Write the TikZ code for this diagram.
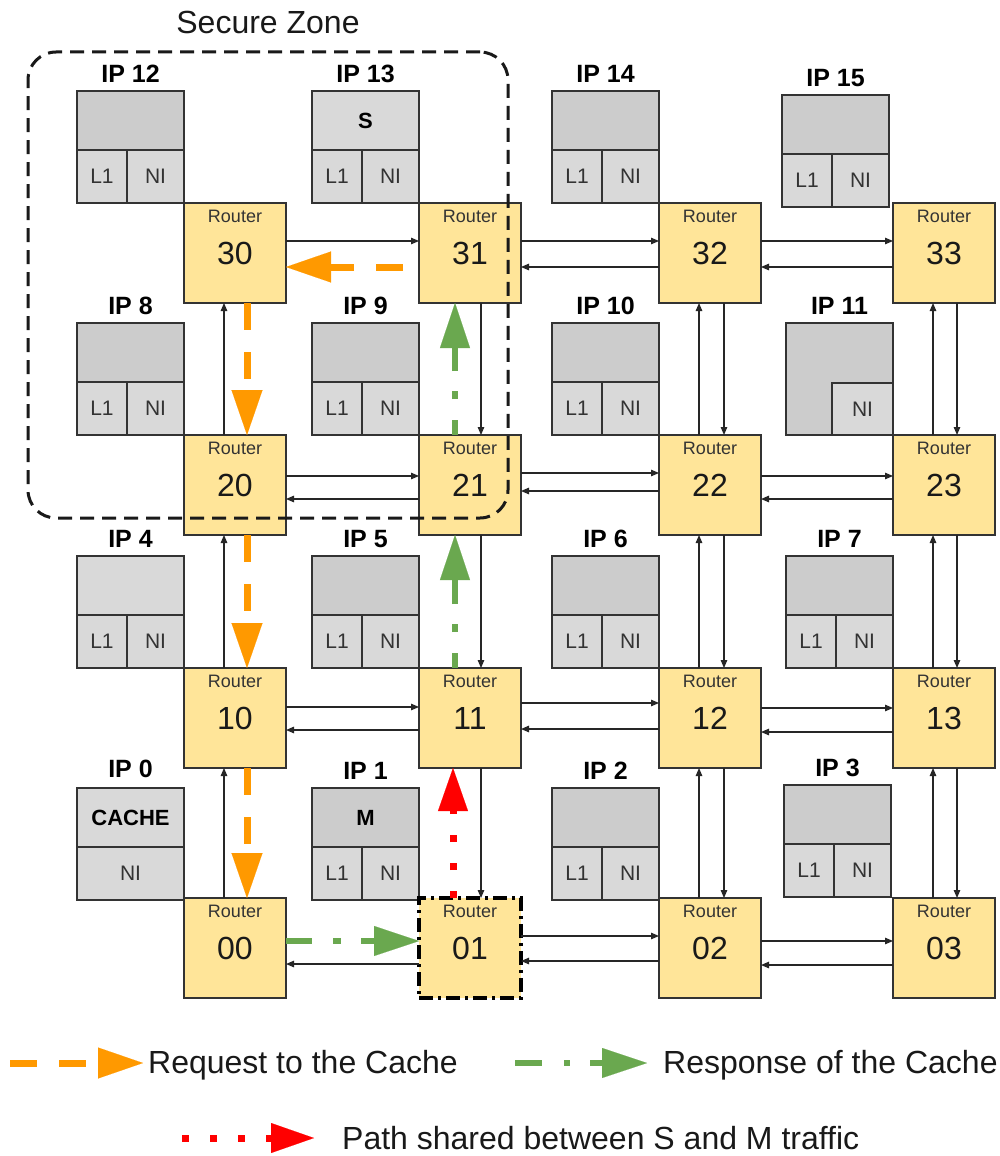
\documentclass[tikz,border=0pt]{standalone}
\usepackage{fontspec}
\setmainfont{Liberation Sans}
\usetikzlibrary{arrows.meta,calc}
\definecolor{routerfill}{HTML}{FFE599}
\definecolor{ipdark}{HTML}{CCCCCC}
\definecolor{iplight}{HTML}{D9D9D9}
\definecolor{edgec}{HTML}{333333}
\definecolor{reqc}{HTML}{FF9900}
\definecolor{respc}{HTML}{6AA84F}
\definecolor{sharedc}{HTML}{FF0000}
\newcommand{\fsz}[1]{\fontsize{#1}{#1}\selectfont}
\tikzset{
  router/.style={draw=edgec, line width=1.5pt, fill=routerfill, minimum width=102pt, minimum height=100pt, inner sep=0pt, outer sep=0pt},
  rtitle/.style={font=\fsz{18}, text=edgec, inner sep=0pt},
  rnum/.style={font=\fsz{32}, text=black!90, inner sep=0pt},
  ipbox/.style={draw=edgec, line width=1.8pt, inner sep=0pt, outer sep=0pt, anchor=north west},
  iplabel/.style={font=\bfseries\fsz{25}, inner sep=0pt},
  subtext/.style={font=\fsz{21}, text=edgec},
  ptext/.style={font=\bfseries\fsz{22}},
  conn/.style={draw=black!85, line width=1.1pt, -{Triangle[length=8pt,width=6.5pt]}},
  req/.style={draw=reqc, line width=7pt, dash pattern=on 27pt off 22pt, -{Triangle[length=45pt,width=31pt,line width=0.1pt]}},
  resp/.style={draw=respc, line width=6pt, dash pattern=on 26pt off 21pt on 8pt off 20pt, -{Triangle[length=45pt,width=30pt,line width=0.1pt]}},
  shared/.style={draw=sharedc, line width=7pt, dash pattern=on 7pt off 21pt, -{Triangle[length=43pt,width=30pt,line width=0.1pt]}},
  zone/.style={draw=black!90, line width=3pt, dash pattern=on 14pt off 8pt, rounded corners=28pt, minimum width=480pt, minimum height=466pt, inner sep=0pt},
  legtext/.style={font=\fsz{32}, anchor=base west, inner sep=0pt, text=black!90},
}
% router: [extra style]{name}{cx}{cy}
\newcommand{\router}[4][]{%
  \node[router,#1] (r#2) at (#3,#4) {};
  \node[rtitle] (r#2t) at ($(r#2.north)+(0,13)$) {Router};
  \node[rnum] (r#2n) at (r#2.center) {#2};
}
% standard IP block: {name}{left}{top}{label}{top fill}{top text}
\newcommand{\ipstd}[6]{%
  \node[ipbox, fill=#5, minimum width=107pt, minimum height=59pt] (#1top) at (#2,#3) {};
  \node[ptext] (#1tt) at (#1top.center) {#6};
  \node[ipbox, fill=iplight, minimum width=50pt, minimum height=53pt] (#1l) at (#2,{#3+59}) {};
  \node[subtext] (#1lt) at (#1l.center) {L1};
  \node[ipbox, fill=iplight, minimum width=57pt, minimum height=53pt] (#1n) at ({#2+50},{#3+59}) {};
  \node[subtext] (#1nt) at (#1n.center) {NI};
  \node[iplabel] (#1lab) at ({#2+53.5},{#3-17}) {#4};
}
\begin{document}
\begin{tikzpicture}[x=1pt,y=-1pt]
\useasboundingbox (0,0) rectangle (1000,1156);
\fill[white] (0,0) rectangle (1000,1156);

% IP blocks
\ipstd{ipa}{77}{91}{IP 12}{ipdark}{}
\ipstd{ipb}{312}{91}{IP 13}{iplight}{S}
\ipstd{ipc}{552}{91}{IP 14}{ipdark}{}
\ipstd{ipd}{782}{95}{IP 15}{ipdark}{}
\ipstd{ipe}{77}{323}{IP 8}{ipdark}{}
\ipstd{ipf}{312}{323}{IP 9}{ipdark}{}
\ipstd{ipg}{552}{323}{IP 10}{ipdark}{}
% IP 11
\node[ipbox, fill=ipdark, minimum width=107pt, minimum height=112pt] (iph) at (786,323) {};
\node[ipbox, fill=iplight, minimum width=61pt, minimum height=52pt] (iphn) at (832,383) {};
\node[subtext] (iphnt) at (iphn.center) {NI};
\node[iplabel] (iphlab) at (839.5,306) {IP 11};
\ipstd{ipi}{77}{556}{IP 4}{iplight}{}
\ipstd{ipj}{312}{556}{IP 5}{ipdark}{}
\ipstd{ipk}{552}{556}{IP 6}{ipdark}{}
\ipstd{ipl}{786}{556}{IP 7}{ipdark}{}
% IP 0
\node[ipbox, fill=iplight, minimum width=107pt, minimum height=59pt] (ipmtop) at (77,788) {};
\node[ptext] (ipmtt) at (ipmtop.center) {CACHE};
\node[ipbox, fill=iplight, minimum width=107pt, minimum height=53pt] (ipmn) at (77,847) {};
\node[subtext] (ipmnt) at (ipmn.center) {NI};
\node[iplabel] (ipmlab) at (130.5,769) {IP 0};
\ipstd{ipn}{312}{788}{IP 1}{ipdark}{M}
\ipstd{ipo}{552}{788}{IP 2}{ipdark}{}
\ipstd{ipp}{784}{785}{IP 3}{ipdark}{}

% Routers
\router{30}{235}{253}
\router{31}{470}{253}
\router{32}{710}{253}
\router{33}{944}{253}
\router{20}{235}{485}
\router{21}{470}{485}
\router{22}{710}{485}
\router{23}{944}{485}
\router{10}{235}{718}
\router{11}{470}{718}
\router{12}{710}{718}
\router{13}{944}{718}
\router{00}{235}{948}
\router[draw=black, line width=3.5pt, dash pattern=on 14pt off 5pt on 3pt off 5pt]{01}{470}{948}
\router{02}{710}{948}
\router{03}{944}{948}

% Horizontal links
\draw[conn] ([yshift=12pt]r30.east) -- ([yshift=12pt]r31.west);
\draw[conn] ([yshift=12pt]r31.east) -- ([yshift=12pt]r32.west);
\draw[conn] ([yshift=-14pt]r32.west) -- ([yshift=-14pt]r31.east);
\draw[conn] ([yshift=12pt]r32.east) -- ([yshift=12pt]r33.west);
\draw[conn] ([yshift=-14pt]r33.west) -- ([yshift=-14pt]r32.east);

\draw[conn] ([yshift=9pt]r20.east) -- ([yshift=9pt]r21.west);
\draw[conn] ([yshift=-14pt]r21.west) -- ([yshift=-14pt]r20.east);
\draw[conn] ([yshift=12pt]r21.east) -- ([yshift=12pt]r22.west);
\draw[conn] ([yshift=-6pt]r22.west) -- ([yshift=-6pt]r21.east);
\draw[conn] ([yshift=9pt]r22.east) -- ([yshift=9pt]r23.west);
\draw[conn] ([yshift=-14pt]r23.west) -- ([yshift=-14pt]r22.east);

\draw[conn] ([yshift=11pt]r10.east) -- ([yshift=11pt]r11.west);
\draw[conn] ([yshift=-12pt]r11.west) -- ([yshift=-12pt]r10.east);
\draw[conn] ([yshift=15pt]r11.east) -- ([yshift=15pt]r12.west);
\draw[conn] ([yshift=-11pt]r12.west) -- ([yshift=-11pt]r11.east);
\draw[conn] ([yshift=10pt]r12.east) -- ([yshift=10pt]r13.west);
\draw[conn] ([yshift=-14pt]r13.west) -- ([yshift=-14pt]r12.east);

\draw[conn] ([yshift=-16pt]r01.west) -- ([yshift=-16pt]r00.east);
\draw[conn] ([yshift=12pt]r01.east) -- ([yshift=12pt]r02.west);
\draw[conn] ([yshift=-13pt]r02.west) -- ([yshift=-13pt]r01.east);
\draw[conn] ([yshift=7pt]r02.east) -- ([yshift=7pt]r03.west);
\draw[conn] ([yshift=-17pt]r03.west) -- ([yshift=-17pt]r02.east);

% Vertical links
\draw[conn] ([xshift=-11pt]r00.north) -- ([xshift=-11pt]r10.south);
\draw[conn] ([xshift=-11pt]r10.north) -- ([xshift=-11pt]r20.south);
\draw[conn] ([xshift=-11pt]r20.north) -- ([xshift=-11pt]r30.south);

\draw[conn] ([xshift=11pt]r31.south) -- ([xshift=11pt]r21.north);
\draw[conn] ([xshift=11pt]r21.south) -- ([xshift=11pt]r11.north);
\draw[conn] ([xshift=11pt]r11.south) -- ([xshift=11pt]r01.north);

\draw[conn] ([xshift=-11pt]r02.north) -- ([xshift=-11pt]r12.south);
\draw[conn] ([xshift=14pt]r12.south) -- ([xshift=14pt]r02.north);
\draw[conn] ([xshift=-11pt]r12.north) -- ([xshift=-11pt]r22.south);
\draw[conn] ([xshift=14pt]r22.south) -- ([xshift=14pt]r12.north);
\draw[conn] ([xshift=-11pt]r22.north) -- ([xshift=-11pt]r32.south);
\draw[conn] ([xshift=14pt]r32.south) -- ([xshift=14pt]r22.north);

\draw[conn] ([xshift=-11pt]r03.north) -- ([xshift=-11pt]r13.south);
\draw[conn] ([xshift=13pt]r13.south) -- ([xshift=13pt]r03.north);
\draw[conn] ([xshift=-11pt]r13.north) -- ([xshift=-11pt]r23.south);
\draw[conn] ([xshift=13pt]r23.south) -- ([xshift=13pt]r13.north);
\draw[conn] ([xshift=-11pt]r23.north) -- ([xshift=-11pt]r33.south);
\draw[conn] ([xshift=13pt]r33.south) -- ([xshift=13pt]r23.north);

% Secure zone
\node[zone] (zone) at (268,285) {};
\node[font=\fsz{32}, inner sep=0pt, text=black!90] (zonelab) at (268,22) {Secure Zone};

% Request path (orange)
\draw[req, dash phase=33pt] ([yshift=-14pt]r31.west) -- ([yshift=-14pt]r30.east);
\draw[req] ([xshift=12pt]r30.south) -- ([xshift=12pt]r20.north);
\draw[req] ([xshift=12pt]r20.south) -- ([xshift=12pt]r10.north);
\draw[req] ([xshift=12pt]r10.south) -- ([xshift=12pt]r00.north);

% Response path (green)
\draw[resp] ([yshift=7pt]r00.east) -- ([yshift=7pt]r01.west);
\draw[resp, dash phase=11pt] ([xshift=-15pt]r11.north) -- ([xshift=-15pt]r21.south);
\draw[resp, dash phase=11pt] ([xshift=-15pt]r21.north) -- ([xshift=-15pt]r31.south);

% Shared path (red)
\draw[shared] ([xshift=-17pt]r01.north) -- ([xshift=-17pt]r11.south);

% Legend
\coordinate (lreqa) at (10,1063);
\coordinate (lreqb) at (143,1063);
\draw[req] (lreqa) -- (lreqb);
\node[legtext] (lreqt) at (148,1073) {Request to the Cache};

\coordinate (lrespa) at (515,1063);
\coordinate (lrespb) at (647,1063);
\draw[resp, dash pattern=on 27pt off 22pt on 6pt off 20pt] (lrespa) -- (lrespb);
\node[legtext] (lrespt) at (663,1073) {Response of the Cache};

\coordinate (lshra) at (182,1138);
\coordinate (lshrb) at (314,1138);
\draw[shared] (lshra) -- (lshrb);
\node[legtext] (lshrt) at (342,1149) {Path shared between S and M traffic};
\end{tikzpicture}
\end{document}
